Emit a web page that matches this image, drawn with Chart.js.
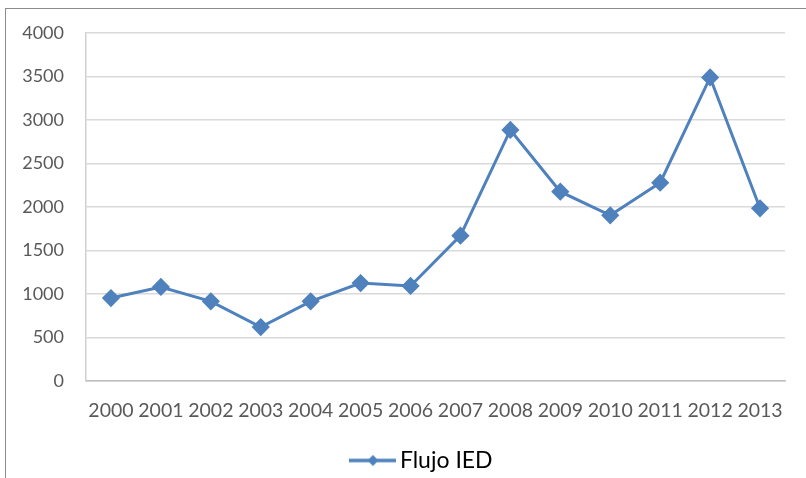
<!DOCTYPE html>
<html>
<head>
<meta charset="utf-8">
<script src="https://cdn.jsdelivr.net/npm/chart.js@4"></script>
<style>
	html, body { margin: 0; padding: 0; background: #fff; }
	#wrap { position: relative; width: 806px; height: 478px; overflow: hidden; }
	#frame { position: absolute; left: 5px; top: 8px; width: 900px; height: 600px; border: 1px solid #8c8c8c; box-sizing: border-box; }
	canvas { position: absolute; left: 0; top: 0; }
</style>
</head>
<body>
<div id="wrap">
	<div id="frame"></div>
	<canvas id="iedChart" width="806" height="478"></canvas>
</div>
<script>
const years = ["2000", "2001", "2002", "2003", "2004", "2005", "2006", "2007", "2008", "2009", "2010", "2011", "2012", "2013"];
const flujoIED = [953, 1080, 915, 620, 915, 1125, 1092, 1670, 2884, 2175, 1904, 2278, 3487, 1984];
const seriesName = "Flujo IED";

window.addEventListener("DOMContentLoaded", () => {
	const blue = "#4F81BD";

	// legend marker: line with a diamond, drawn in the right part of a wide canvas
	const marker = document.createElement("canvas");
	marker.width = 101;
	marker.height = 16;
	const m = marker.getContext("2d");
	m.strokeStyle = blue;
	m.lineWidth = 3.5;
	m.beginPath();
	m.moveTo(54, 8);
	m.lineTo(101, 8);
	m.stroke();
	m.fillStyle = blue;
	m.beginPath();
	m.moveTo(78, 2.5);
	m.lineTo(83.5, 8);
	m.lineTo(78, 13.5);
	m.lineTo(72.5, 8);
	m.closePath();
	m.fill();

	const ctx = document.getElementById("iedChart").getContext("2d");
	new Chart(ctx, {
		type: "line",
		data: {
			labels: years,
			datasets: [
				{
					label: seriesName,
					data: flujoIED,
					borderColor: blue,
					backgroundColor: blue,
					borderWidth: 3,
					pointStyle: "rectRot",
					pointRadius: 7,
					pointHoverRadius: 7,
					tension: 0,
				},
			],
		},
		options: {
			responsive: false,
			animation: false,
			layout: { padding: { left: 10, right: 21, top: 24, bottom: -4 } },
			scales: {
				x: {
					offset: true,
					afterFit: (scale) => { scale.height = 58; },
					grid: { display: false, drawTicks: false },
					border: { display: true, color: "#BFBFBF", width: 1.5 },
					ticks: {
						padding: 18,
						color: "#595959",
						maxRotation: 0,
						autoSkip: false,
						font: { family: "Lato", size: 19.5 },
					},
				},
				y: {
					min: 0,
					max: 4000,
					afterFit: (scale) => { scale.width = 76; },
					grid: { color: "#D9D9D9", lineWidth: 1.5, drawTicks: false },
					border: { display: true, color: "#D0D0D0", width: 1.5 },
					ticks: {
						stepSize: 500,
						padding: 22,
						color: "#595959",
						font: { family: "Lato", size: 18 },
						callback: (v) => String(v),
					},
				},
			},
			plugins: {
				legend: {
					position: "bottom",
					labels: {
						usePointStyle: true,
						pointStyle: marker,
						pointStyleWidth: 86,
						boxHeight: 16,
						padding: 10,
						color: "#000",
						font: { family: "Lato", size: 23 },
					},
				},
				tooltip: { enabled: false },
			},
		},
	});
});
</script>
</body>
</html>
